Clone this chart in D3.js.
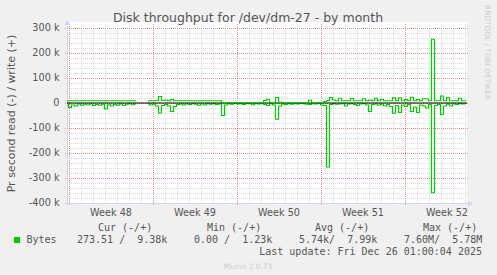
<!DOCTYPE html>
<html>
<head>
<meta charset="utf-8">
<script src="https://cdn.jsdelivr.net/npm/d3@7"></script>
<style>
  body { margin: 0; background: #F0F0F0; }
  svg { display: block; }
</style>
</head>
<body>
<svg id="chart"></svg>
<script>
// ------------ DATA (values in k, one point every 6 hours) ------------
var startTime = Date.UTC(2025, 10, 23, 20);   // first sample
var stepHours = 6;

// write (+), null = no data
var writeK = [
  9,9,9,9,9,9,9,9,9,9,
  9,9,9,9,9,9,9,9,9,9,
  9,9,9,9,null,null,null,9,9,9,
  10,26,10,12,9,14,9,9,9,9,
  9,9,9,9,9,9,9,9,9,9,
  9,9,2,1,1,1,1,1,1,1,
  1,1,1,1,1,1,10,15,2,1,
  22,3,1,1,1,1,1,1,1,1,
  1,11,1,1,1,2,6,10,22,12,
  9,19,9,9,9,18,9,9,9,17,
  9,12,9,19,9,15,9,9,9,21,
  9,21,9,14,9,23,9,14,9,17,
  16,9,255,9,9,28,9,22,9,9,
  9,19,9,9
];
// read (-), drawn below zero
var readK = [
  3,18,8,12,4,9,5,8,4,10,
  6,9,5,24,7,12,6,9,4,10,
  5,3,7,4,null,null,null,4,8,5,
  12,40,10,6,12,34,14,6,4,8,
  4,6,3,5,9,4,8,3,5,3,
  6,4,50,8,3,5,2,4,3,6,
  2,3,7,3,4,2,6,10,3,8,
  65,12,4,6,3,5,3,4,2,3,
  5,6,3,4,2,8,10,256,6,3,
  5,4,3,12,4,3,6,10,4,3,
  8,34,6,4,9,5,12,6,14,41,
  10,38,8,14,6,34,16,38,8,12,
  20,6,359,10,6,46,12,5,12,4,
  6,3,4,3
];

var weekLabels = ["Week 48", "Week 49", "Week 50", "Week 51", "Week 52"];
var yTicks = [-400000, -300000, -200000, -100000, 0, 100000, 200000, 300000];

var legendHeads = ["Cur (-/+)", "Min (-/+)", "Avg (-/+)", "Max (-/+)"];
var legendVals = ["273.51 /  9.38k", "0.00 /  1.23k", "5.74k/  7.99k", "7.60M/  5.78M"];

// ------------ LAYOUT ------------
var W = 497, H = 275;
var plot = { left: 67, right: 467, top: 28, bottom: 203 };
var green = "#00CC00";
var fontCol = "#555";
var axisCol = "#CFD6F8";

var svg = d3.select("#chart").attr("width", W).attr("height", H)
  .style("background", "#F0F0F0");

var endTime = startTime + 400 / 12 * 24 * 3600 * 1000;
var x = d3.scaleUtc()
  .domain([new Date(startTime), new Date(endTime)])
  .range([plot.left, plot.right]);
var y = d3.scaleLinear()
  .domain([-400000, 300000])
  .range([plot.bottom, plot.top]);

// canvas
svg.append("rect")
  .attr("x", plot.left).attr("y", plot.top - 6)
  .attr("width", plot.right - plot.left).attr("height", plot.bottom - plot.top + 6)
  .attr("fill", "#fff");

//---------- GRID ----------
var grid = svg.append("g").attr("shape-rendering", "crispEdges");
var minorY = d3.range(-400000, 300001, 20000);
grid.selectAll("line.my").data(minorY).enter().append("line")
  .attr("x1", plot.left).attr("x2", plot.right)
  .attr("y1", function(d){ return Math.round(y(d)) + 0.5; })
  .attr("y2", function(d){ return Math.round(y(d)) + 0.5; })
  .attr("stroke", "rgba(192,192,192,0.55)").attr("stroke-dasharray", "1,1");

var days = d3.utcDay.range(new Date(startTime), new Date(endTime));
grid.selectAll("line.mx").data(days).enter().append("line")
  .attr("x1", function(d){ return Math.round(x(d)) + 0.5; })
  .attr("x2", function(d){ return Math.round(x(d)) + 0.5; })
  .attr("y1", plot.top - 4).attr("y2", plot.bottom)
  .attr("stroke", "rgba(192,192,192,0.55)").attr("stroke-dasharray", "1,1");

grid.selectAll("line.My").data(yTicks).enter().append("line")
  .attr("x1", plot.left - 2).attr("x2", plot.right + 2)
  .attr("y1", function(d){ return Math.round(y(d)) + 0.5; })
  .attr("y2", function(d){ return Math.round(y(d)) + 0.5; })
  .attr("stroke", "rgba(255,0,0,0.38)").attr("stroke-dasharray", "1,1");

var mondays = d3.utcMonday.range(new Date(startTime), new Date(endTime));
grid.selectAll("line.Mx").data(mondays).enter().append("line")
  .attr("x1", function(d){ return Math.round(x(d)) + 0.5; })
  .attr("x2", function(d){ return Math.round(x(d)) + 0.5; })
  .attr("y1", plot.top - 4).attr("y2", plot.bottom + 2)
  .attr("stroke", "rgba(255,0,0,0.38)").attr("stroke-dasharray", "1,1");

//---------- AXES ----------
svg.append("line")
  .attr("x1", plot.left + 0.5).attr("x2", plot.left + 0.5)
  .attr("y1", plot.bottom + 2).attr("y2", plot.top - 5)
  .attr("stroke", axisCol);
svg.append("path")
  .attr("d", "M" + (plot.left - 2.5) + "," + (plot.top - 3) + "L" + (plot.left + 3.5) + "," + (plot.top - 3) + "L" + (plot.left + 0.5) + "," + (plot.top - 8) + "Z")
  .attr("fill", axisCol);
svg.append("line")
  .attr("x1", plot.left - 2).attr("x2", plot.right + 3)
  .attr("y1", plot.bottom + 0.5).attr("y2", plot.bottom + 0.5)
  .attr("stroke", axisCol);
svg.append("path")
  .attr("d", "M" + (plot.right + 1) + "," + (plot.bottom - 2.5) + "L" + (plot.right + 1) + "," + (plot.bottom + 3.5) + "L" + (plot.right + 6) + "," + (plot.bottom + 0.5) + "Z")
  .attr("fill", axisCol);

// y tick labels
svg.selectAll("text.ytick").data(yTicks).enter().append("text")
  .attr("x", 59.5).attr("y", function(d){ return y(d); })
  .attr("dy", "0.35em")
  .attr("text-anchor", "end")
  .attr("font-family", "DejaVu Sans").attr("font-size", 9.7).attr("fill", fontCol)
  .text(function(d){ return d == 0 ? "0" : (d / 1000) + " k"; });

// week labels, centered mid-week
svg.selectAll("text.week").data(mondays).enter().append("text")
  .attr("x", function(d){ return x(d3.utcHour.offset(d, 84)); })
  .attr("y", 216)
  .attr("text-anchor", "middle")
  .attr("font-family", "DejaVu Sans").attr("font-size", 9.7).attr("fill", fontCol)
  .text(function(d, i){ return weekLabels[i]; });

//---------- LINES ----------
var times = writeK.map(function(v, i){ return new Date(startTime + i * stepHours * 3600 * 1000); });

var line = d3.line()
  .defined(function(d){ return d[1] != null; })
  .curve(d3.curveStep)
  .x(function(d){ return x(d[0]); })
  .y(function(d){ return y(d[1] * 1000); });

svg.append("path")
  .datum(times.map(function(t, i){ return [t, readK[i] == null ? null : -readK[i]]; }))
  .attr("d", line).attr("fill", "none").attr("stroke", green).attr("stroke-width", 1.2);

// zero line
svg.append("line")
  .attr("x1", plot.left).attr("x2", plot.right)
  .attr("y1", y(0)).attr("y2", y(0))
  .attr("stroke", "#000").attr("stroke-width", 1.2);

svg.append("path")
  .datum(times.map(function(t, i){ return [t, writeK[i]]; }))
  .attr("d", line).attr("fill", "none").attr("stroke", green).attr("stroke-width", 1.2);

//---------- TEXTS ----------
svg.append("text")
  .attr("x", 248).attr("y", 22).attr("text-anchor", "middle")
  .attr("font-family", "DejaVu Sans").attr("font-size", 12.5).attr("fill", fontCol)
  .text("Disk throughput for /dev/dm-27 - by month");

svg.append("text")
  .attr("transform", "translate(15,113.5) rotate(-90)")
  .attr("text-anchor", "middle")
  .attr("font-family", "DejaVu Sans").attr("font-size", 11).attr("fill", fontCol)
  .text("Pr second read (-) / write (+)");

svg.append("text")
  .attr("transform", "translate(485,5) rotate(90)")
  .attr("font-family", "DejaVu Sans").attr("font-size", 7.4).attr("fill", "#ccc")
  .text("RRDTOOL / TOBI OETIKER");

// legend
var headX = [98, 207, 315, 423];
var valX = [77, 194, 299, 404];
svg.selectAll("text.lh").data(legendHeads).enter().append("text")
  .attr("x", function(d, i){ return headX[i]; }).attr("y", 231)
  .style("white-space", "pre")
  .attr("font-family", "DejaVu Sans Mono").attr("font-size", 10).attr("fill", fontCol)
  .text(function(d){ return d; });

svg.append("rect").attr("x", 14).attr("y", 237).attr("width", 6).attr("height", 6).attr("fill", green);
svg.append("text")
  .attr("x", 26.5).attr("y", 243)
  .attr("font-family", "DejaVu Sans Mono").attr("font-size", 10).attr("fill", fontCol)
  .text("Bytes");
svg.selectAll("text.lv").data(legendVals).enter().append("text")
  .attr("x", function(d, i){ return valX[i]; }).attr("y", 243)
  .style("white-space", "pre")
  .attr("font-family", "DejaVu Sans Mono").attr("font-size", 10).attr("fill", fontCol)
  .text(function(d){ return d; });

svg.append("text")
  .attr("x", 482).attr("y", 255).attr("text-anchor", "end")
  .attr("font-family", "DejaVu Sans Mono").attr("font-size", 10).attr("fill", fontCol)
  .text("Last update: Fri Dec 26 01:00:04 2025");

svg.append("text")
  .attr("x", 248).attr("y", 269).attr("text-anchor", "middle")
  .attr("font-family", "DejaVu Sans").attr("font-size", 7.4).attr("fill", "#ccc")
  .text("Munin 2.0.73");
</script>
</body>
</html>
